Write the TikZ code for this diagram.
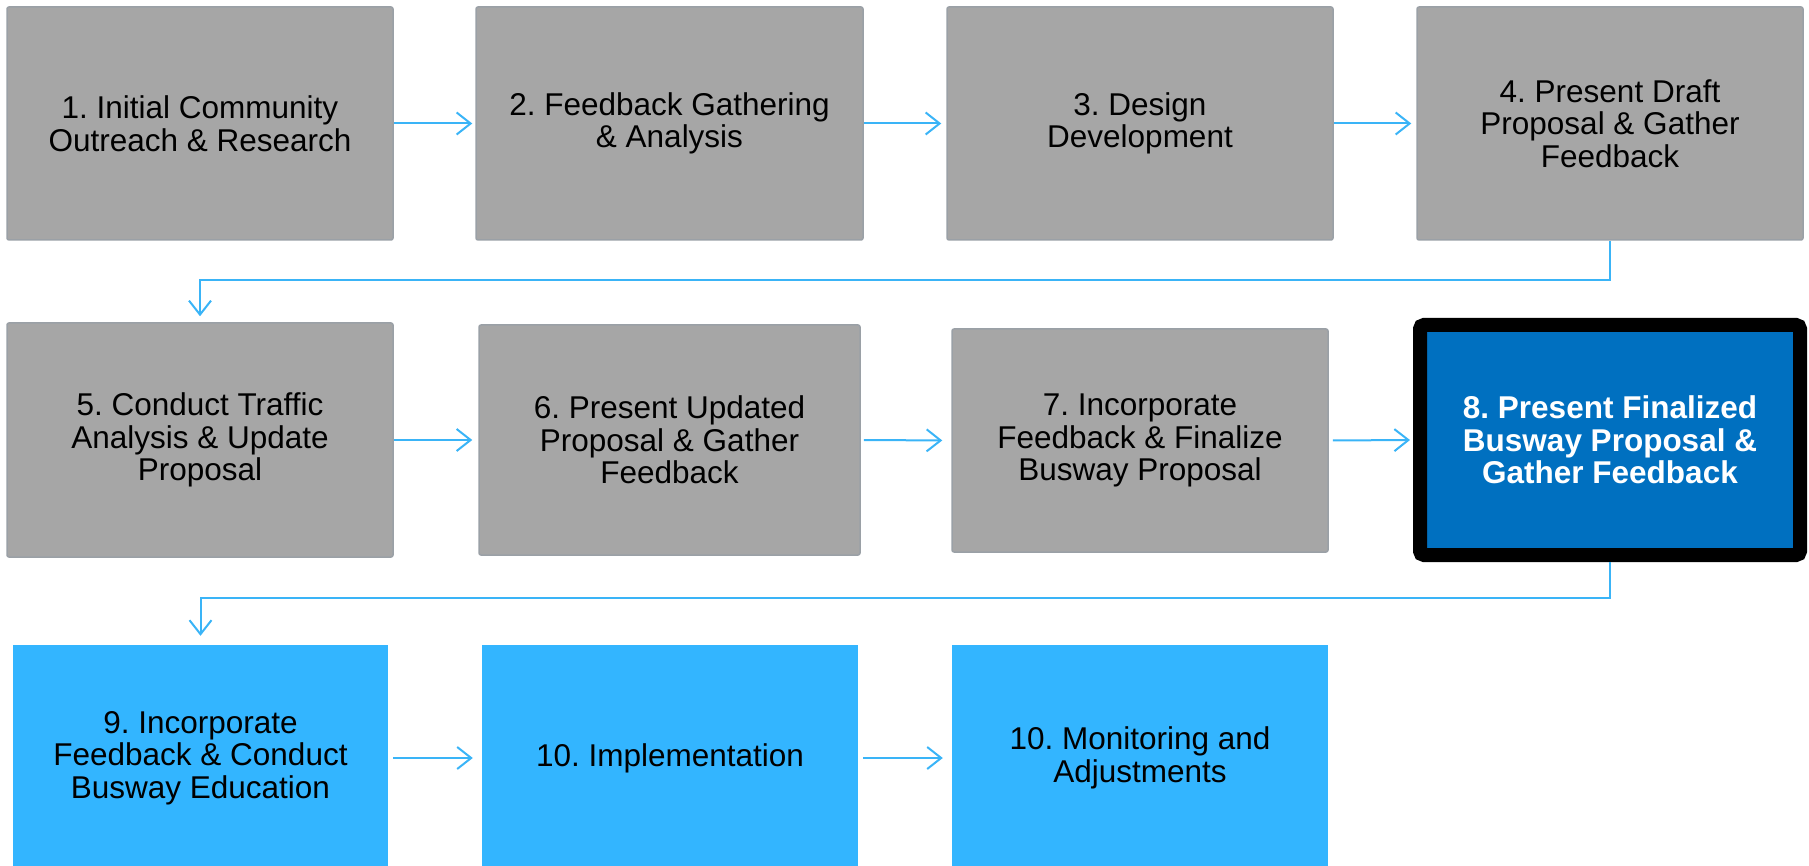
\documentclass[tikz,border=0pt]{standalone}
\usepackage{fontspec}
\setmainfont{Liberation Sans}
\usetikzlibrary{arrows.meta}
\definecolor{gfill}{HTML}{A6A6A6}
\definecolor{gline}{HTML}{9AA0A6}
\definecolor{lblue}{HTML}{33B5FF}
\definecolor{dblue}{HTML}{0070C0}
\definecolor{arrc}{HTML}{3AB4F7}
\frenchspacing
\begin{document}
\begin{tikzpicture}[x=1pt,y=-1pt,
 every node/.style={inner sep=0pt, align=center, font=\fontsize{31.5}{32.5}\selectfont},
 gbox/.style={fill=gfill, draw=gline, line width=1.5pt, rounded corners=2pt},
 lbox/.style={fill=lblue},
 hbox/.style={fill=dblue, draw=black, line width=14pt, rounded corners=4pt, text=white, font=\fontsize{31.5}{32.5}\selectfont\bfseries},
 arr/.style={draw=arrc, line width=2pt, -{Straight Barb[length=14pt,width=22pt,line width=2pt]}}
]
\useasboundingbox (0,0) rectangle (1809,866);
% row 1
\node[gbox, minimum width=386, minimum height=233] (b1) at (200,123.5) {1. Initial Community\\Outreach \& Research};
\node[gbox, minimum width=387, minimum height=233] (b2) at (669.5,123.5) {2. Feedback Gathering\\\& Analysis};
\node[gbox, minimum width=386, minimum height=233] (b3) at (1140,123.5) {3. Design\\Development};
\node[gbox, minimum width=386, minimum height=233] (b4) at (1610,123.5) {4. Present Draft\\Proposal \& Gather\\Feedback};
% row 2
\node[gbox, minimum width=386, minimum height=234] (b5) at (200,440) {5. Conduct Traffic\\Analysis \& Update\\Proposal};
\node[gbox, minimum width=381, minimum height=230] (b6) at (669.5,440) {6. Present Updated\\Proposal \& Gather\\Feedback};
\node[gbox, minimum width=376, minimum height=223] (b7) at (1140,440.5) {7. Incorporate\\Feedback \& Finalize\\Busway Proposal};
\node[hbox, minimum width=380, minimum height=230] (b8) at (1610,440) {8. Present Finalized\\Busway Proposal \&\\Gather Feedback};
% row 3
\node[lbox, minimum width=375, minimum height=226] (b9) at (200.5,758) {9. Incorporate\\Feedback \& Conduct\\Busway Education};
\node[lbox, minimum width=376, minimum height=226] (b10) at (670,758) {10. Implementation};
\node[lbox, minimum width=376, minimum height=226] (b11) at (1140,758) {10. Monitoring and\\Adjustments};
% connectors
\coordinate (r1) at (0,280);
\coordinate (r2) at (0,598);
\draw[arr, shorten >=3pt] (b1.east) -- (b2.west);
\draw[arr, shorten >=5pt] (b2.east) -- (b3.west);
\draw[arr, shorten >=5pt] (b3.east) -- (b4.west);
\draw[arr, shorten >=6pt] (b4.south) -- (b4.south |- r1) -| (b5.north);
\draw[arr, shorten >=6pt] (b5.east) -- (b6.west);
\draw[arr, shorten <=3pt, shorten >=9pt] (b6.east) -- (b7.west);
\draw[arr, shorten <=4pt, shorten >=3pt] (b7.east) -- (b8.west);
\draw[arr, shorten >=9pt] (b8.south) -- (b8.south |- r2) -| (b9.north);
\draw[arr, shorten <=5pt, shorten >=9pt] (b9.east) -- (b10.west);
\draw[arr, shorten <=5pt, shorten >=9pt] (b10.east) -- (b11.west);
\end{tikzpicture}
\end{document}
